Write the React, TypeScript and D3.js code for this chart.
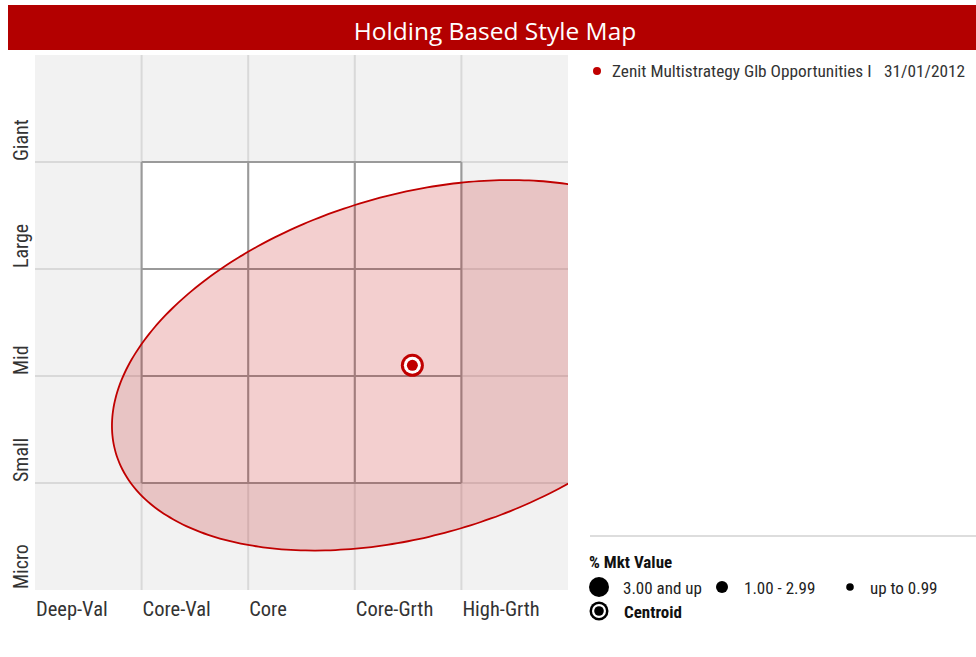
import React from "react";
import * as d3 from "d3";

// ---- data ----
const styleCategories = ["Deep-Val", "Core-Val", "Core", "Core-Grth", "High-Grth"];
const sizeCategories = ["Micro", "Small", "Mid", "Large", "Giant"]; // bottom -> top
const fundName = "Zenit Multistrategy Glb Opportunities I";
const fundDate = "31/01/2012";
const centroid = { x: 3.54, y: 2.1 };
const ellipseSemiAxes = [2.9, 1.59];
const ellipseRotationDeg = [16.4];
const legendTitle = "% Mkt Value";
const legendSizes = ["3.00 and up", "1.00 - 2.99", "up to 0.99"];
const centroidLabel = "Centroid";
const title = "Holding Based Style Map";

const W = 976;
const H = 657;
const RED = "#c00000";
const FONT = "'Liberation Sans Narrow', 'Roboto Condensed', 'DejaVu Sans Condensed', 'Liberation Sans', sans-serif";

export default function App() {
  const x = d3.scaleLinear().domain([0, 5]).range([35, 568]);
  const y = d3.scaleLinear().domain([0, 5]).range([590, 55]);
  const ticks = d3.range(1, 5);

  const [a, b] = ellipseSemiAxes;
  const phi = (ellipseRotationDeg[0] * Math.PI) / 180;
  const ts = d3.range(0, 360, 2).map((d) => (d * Math.PI) / 180);
  const ellipsePts: [number, number][] = ts.map((t) => [
    centroid.x + a * Math.cos(t) * Math.cos(phi) - b * Math.sin(t) * Math.sin(phi),
    centroid.y + a * Math.cos(t) * Math.sin(phi) + b * Math.sin(t) * Math.cos(phi),
  ]);
  const line = d3
    .line<[number, number]>()
    .x((d) => x(d[0]))
    .y((d) => y(d[1]))
    .curve(d3.curveCardinalClosed);
  const ellipsePath = line(ellipsePts) || "";

  const lightGrid = "#d9d9d9";
  const darkGrid = "#9a9a9a";

  const sizeDotR = [10, 6, 3.8];
  const sizeDotX = [599, 722, 850];
  const sizeTextX = [623, 744, 870];

  const cx = x(centroid.x);
  const cy = y(centroid.y);

  return (
    <svg
      width={W}
      height={H}
      style={{ position: "absolute", left: 0, top: 0, background: "#fff" }}
      fontFamily={FONT}
    >
      <defs>
        <clipPath id="plotClip">
          <rect x={x(0)} y={y(5)} width={x(5) - x(0)} height={y(0) - y(5)} />
        </clipPath>
      </defs>
      {/* title bar */}
      <rect x={8} y={5} width={W - 8} height={45} fill="#b30000" />
      <text
        x={495}
        y={40}
        textAnchor="middle"
        fill="#fff"
        fontSize={24.5}
        fontFamily="'Open Sans', sans-serif"
      >
        {title}
      </text>

      {/* plot background */}
      <rect x={x(0)} y={y(5)} width={x(5) - x(0)} height={y(0) - y(5)} fill="#f2f2f2" />
      <rect x={x(1)} y={y(4)} width={x(4) - x(1)} height={y(1) - y(4)} fill="#fff" />
      {ticks.map((t) => (
        <g key={"lg" + t}>
          <line x1={x(t)} x2={x(t)} y1={y(5)} y2={y(0)} stroke={lightGrid} strokeWidth={2} />
          <line x1={x(0)} x2={x(5)} y1={y(t)} y2={y(t)} stroke={lightGrid} strokeWidth={2} />
        </g>
      ))}
      {ticks.map((t) => (
        <g key={"dg" + t}>
          <line x1={x(t)} x2={x(t)} y1={y(4)} y2={y(1)} stroke={darkGrid} strokeWidth={2} />
          <line x1={x(1)} x2={x(4)} y1={y(t)} y2={y(t)} stroke={darkGrid} strokeWidth={2} />
        </g>
      ))}

      {/* ellipse */}
      <g clipPath="url(#plotClip)">
        <path d={ellipsePath} fill={RED} fillOpacity={0.19} stroke={RED} strokeWidth={1.8} />
      </g>

      {/* centroid */}
      <circle cx={cx} cy={cy} r={11.5} fill={RED} />
      <circle cx={cx} cy={cy} r={8.5} fill="#fff" />
      <circle cx={cx} cy={cy} r={5.5} fill={RED} />

      {/* x labels */}
      {styleCategories.map((c, i) => (
        <text key={c} x={x(i) + 1} y={616} fontSize={20.5} fill="#333">
          {c}
        </text>
      ))}
      {/* y labels */}
      {sizeCategories.map((c, i) => (
        <text
          key={c}
          transform={`translate(28,${y(i) - 1}) rotate(-90)`}
          fontSize={20}
          fill="#333"
        >
          {c}
        </text>
      ))}

      {/* top legend */}
      <circle cx={597} cy={71} r={4} fill={RED} />
      <text x={612} y={77} fontSize={17.3} fill="#333">
        {fundName}
      </text>
      <text x={884} y={77} fontSize={17.3} fill="#333">
        {fundDate}
      </text>

      {/* bottom legend */}
      <line x1={590} x2={W} y1={536} y2={536} stroke="#ddd" strokeWidth={2} />
      <text x={589} y={568} fontSize={17} fontWeight="bold" fill="#111">
        {legendTitle}
      </text>
      {legendSizes.map((s, i) => (
        <g key={s}>
          <circle cx={sizeDotX[i]} cy={587} r={sizeDotR[i]} fill="#000" />
          <text x={sizeTextX[i]} y={593.5} fontSize={17} fill="#222" xmlSpace="preserve">
            {s}
          </text>
        </g>
      ))}
      <circle cx={599} cy={611} r={9.5} fill="#000" />
      <circle cx={599} cy={611} r={7} fill="#fff" />
      <circle cx={599} cy={611} r={4.8} fill="#000" />
      <text x={624} y={617.5} fontSize={17} fontWeight="bold" fill="#111">
        {centroidLabel}
      </text>
    </svg>
  );
}
